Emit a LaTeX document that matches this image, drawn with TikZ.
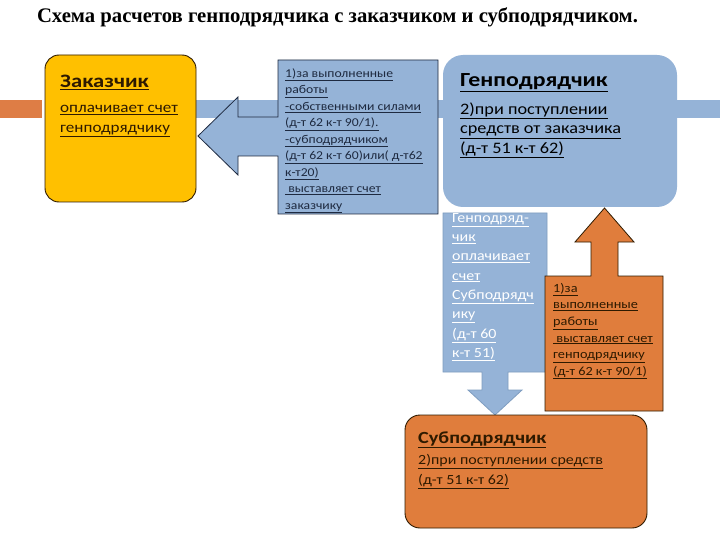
\documentclass[tikz,border=0pt]{standalone}
\usepackage{fontspec}
\setmainfont{Liberation Serif}
\newfontfamily\carl[FakeStretch=1.14, BoldFeatures={FakeStretch=1.19}]{Carlito}
\definecolor{gold}{HTML}{FFC000}
\definecolor{sblue}{HTML}{95B3D7}
\definecolor{sorange}{HTML}{E07D3C}
\definecolor{barorange}{HTML}{DE7D45}
\definecolor{dkbrown}{HTML}{2E1A00}
\definecolor{dkblue}{HTML}{1E2A40}
\definecolor{edgeblue}{HTML}{7F9DC0}
\newcommand\myul[1]{\strut\underline{#1}}
\tikzset{
  txt/.style={inner sep=0pt, anchor=north west, align=left, font=\carl},
  ttl/.style={inner sep=0pt, anchor=base west, font=\carl\bfseries},
}
\begin{document}
\begin{tikzpicture}[x=1pt,y=-1pt]
\useasboundingbox (0,0) rectangle (720,540);
\fill[white] (0,0) rectangle (720,540);
% decorative bars
\fill[barorange] (0,100) rectangle (42,118);
\fill[sblue] (196,100) rectangle (720,118);
% title
\node[inner sep=0pt, anchor=base, font=\fontsize{20.7}{24}\selectfont\bfseries] (title) at (337.5,23) {Схема расчетов генподрядчика с заказчиком и субподрядчиком.};
% Zakazchik box
\draw[fill=gold, draw=dkbrown, line width=0.9pt, rounded corners=14pt] (45,55) rectangle (196,202);
\node[ttl, font=\carl\bfseries\fontsize{19}{22}\selectfont, text=dkbrown] (zt) at (60,88) {\underline{Заказчик}};
\node[txt, font=\carl\fontsize{15}{20}\selectfont, text=dkbrown] (zb) at (60,98) {\myul{оплачивает счет}\\\myul{генподрядчику}};
% Left arrow
\draw[fill=sblue, draw=dkblue, line width=0.8pt] (438,60) -- (278,60) -- (278,117) -- (238,117) -- (238,97) -- (198,136) -- (238,175) -- (238,156) -- (278,156) -- (278,214) -- (438,214) -- cycle;
\node[txt, font=\carl\fontsize{12}{16.5}\selectfont, text=dkblue] (la) at (285,65.5) {\myul{1)за выполненные}\\\myul{работы}\\\myul{-собственными силами}\\\myul{(д-т 62 к-т 90/1).}\\\myul{-субподрядчиком}\\\myul{(д-т 62 к-т 60)или( д-т62}\\\myul{к-т20)}\\\myul{ выставляет счет}\\\myul{заказчику}};
% Genpodryadchik box
\fill[sblue, rounded corners=20pt] (443,55) rectangle (677,207);
\node[ttl, font=\carl\bfseries\fontsize{20}{24}\selectfont, text=black] (gt) at (460,87) {\underline{Генподрядчик}};
\node[txt, font=\carl\fontsize{16}{19.5}\selectfont, text=black] (gb) at (460,100.4) {\myul{2)при поступлении}\\\myul{средств от заказчика}\\\myul{(д-т 51 к-т 62)}};
% Down arrow
\draw[fill=sblue, draw=edgeblue, line width=0.8pt] (443,213) -- (547,213) -- (547,372) -- (508,372) -- (508,390) -- (522,390) -- (495,415) -- (468,390) -- (482,390) -- (482,372) -- (443,372) -- cycle;
\node[txt, font=\carl\fontsize{14}{19.3}\selectfont, text=white] (da) at (452,208.5) {\myul{Генподряд-}\\\myul{чик}\\\myul{оплачивает}\\\myul{счет}\\\myul{Субподрядч}\\\myul{ику}\\\myul{(д-т 60}\\\myul{к-т 51)}};
% Up arrow
\draw[fill=sorange, draw=dkbrown, line width=0.8pt] (545,411) -- (663,411) -- (663,276) -- (618,276) -- (618,242) -- (634,242) -- (604.5,208) -- (575,242) -- (591,242) -- (591,276) -- (545,276) -- cycle;
\node[txt, font=\carl\fontsize{12.5}{16.6}\selectfont, text=dkbrown] (ua) at (553,280.4) {\myul{1)за}\\\myul{выполненные}\\\myul{работы}\\\myul{ выставляет счет}\\\myul{генподрядчику}\\\myul{(д-т 62 к-т 90/1)}};
% Subpodryadchik box
\draw[fill=sorange, draw=dkbrown, line width=0.9pt, rounded corners=15pt] (405,415) rectangle (647,528);
\node[ttl, font=\carl\bfseries\fontsize{17}{20}\selectfont, text=dkbrown] (st) at (418,443) {\underline{Субподрядчик}};
\node[txt, font=\carl\fontsize{14}{20}\selectfont, text=dkbrown] (sb) at (418,450) {\myul{2)при поступлении средств}\\\myul{(д-т 51 к-т 62)}};
\end{tikzpicture}
\end{document}
